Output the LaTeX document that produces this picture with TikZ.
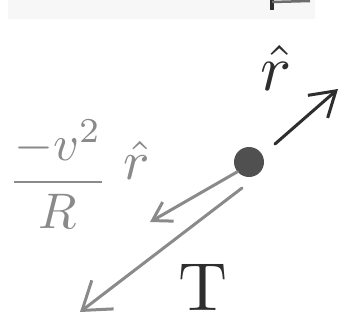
\documentclass[tikz,border=0pt]{standalone}
\usetikzlibrary{arrows.meta}
\definecolor{ink}{HTML}{2E2E2E}
\definecolor{pencil}{HTML}{8A8A8A}
\definecolor{dotc}{HTML}{505050}
\begin{document}
\begin{tikzpicture}[x=1pt,y=-1pt,
  vec/.style={line width=3pt,line cap=round},
  label/.style={inner sep=0pt,anchor=center}]
\useasboundingbox (0,0) rectangle (351,325);
\fill[white] (0,0) rectangle (351,325);
\fill[black!3] (8,0) rectangle (315,19);
% partial glyph at the top edge
\draw[ink,line width=4pt] (272,0) -- (272,10);
\draw[ink!70,line width=2.5pt] (272,2) -- (310,1);
% particle
\node[circle,fill=dotc,minimum size=30pt,inner sep=0pt] (m) at (249,162) {};
% arrow tips / ends
\coordinate (up) at (338,89);
\coordinate (fc) at (150,222);
\coordinate (tt) at (80,312);
\draw[vec,ink,-{Straight Barb[length=24pt,width=30pt,line width=3pt]}] (275,144) -- (up);
\draw[vec,pencil,-{Straight Barb[length=18pt,width=22pt,line width=3pt]}] (m.220) -- (fc);
\draw[vec,pencil,-{Straight Barb[length=26pt,width=36pt,line width=3pt]}] (242,188) -- (tt);
% labels
\node[label,ink,scale=6.5] (rhat) at (276,68) {$\hat{r}$};
\node[label,pencil,scale=5] (frac) at (58,174) {$\displaystyle\frac{-v^2}{R}$};
\node[label,pencil,scale=5.5] (rhat2) at (137,160) {$\hat{r}$};
\node[label,ink,scale=6.8] (T) at (203,287) {$\mathrm{T}$};
\end{tikzpicture}
\end{document}
